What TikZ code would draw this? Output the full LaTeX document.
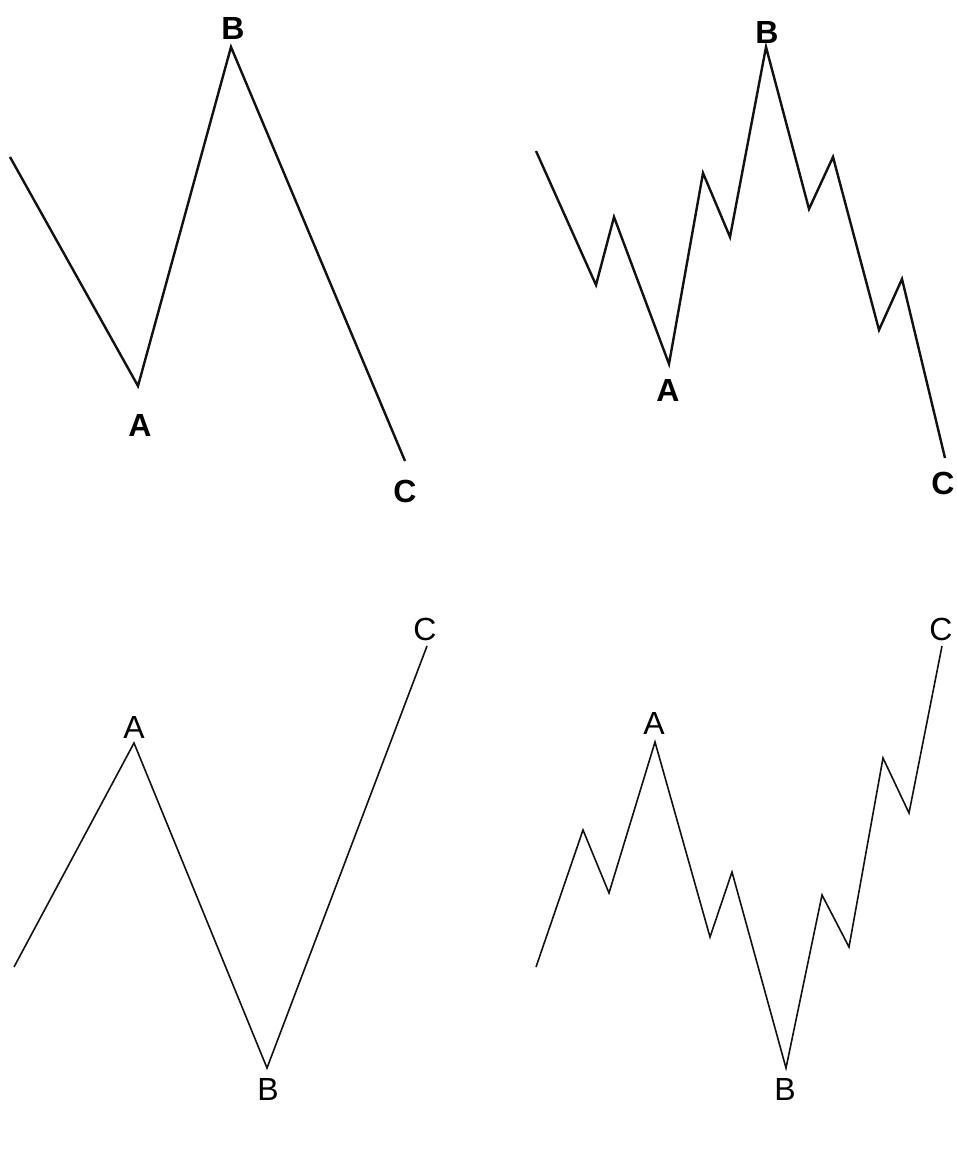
\documentclass[tikz,border=0pt]{standalone}
\usepackage{fontspec}
\setmainfont{Liberation Sans}
\usepackage{tikz}
\definecolor{waveink}{HTML}{111111}
\tikzset{
  bigwave/.style={draw=waveink,line width=2.4pt,line join=miter},
  smallwave/.style={draw=waveink,line width=1.6pt,line join=miter},
  boldlabel/.style={font=\fontsize{32}{32}\selectfont\bfseries,inner sep=0pt},
  thinlabel/.style={font=\fontsize{32}{32}\selectfont,inner sep=0pt}
}

\begin{document}
\begin{tikzpicture}[x=1pt,y=-1pt]
  \useasboundingbox (0,0) rectangle (957,1158);

  % top left: simple zigzag down
  \coordinate (tlS) at (10,157);
  \coordinate (tlA) at (138,386);
  \coordinate (tlB) at (231,47);
  \coordinate (tlC) at (405,461);
  \draw[bigwave] (tlS) -- (tlA) -- (tlB) -- (tlC);
  \node[boldlabel] (tlBl) at (233,28) {B};
  \node[boldlabel] (tlAl) at (140,425) {A};
  \node[boldlabel] (tlCl) at (405,491) {C};

  % top right: same move with subwaves
  \coordinate (trS) at (536,151);
  \coordinate (tr1) at (596,285);
  \coordinate (tr2) at (614,217);
  \coordinate (trA) at (669,364);
  \coordinate (tr3) at (703,173);
  \coordinate (tr4) at (730,237);
  \coordinate (trB) at (766,47);
  \coordinate (tr5) at (809,209);
  \coordinate (tr6) at (833,157);
  \coordinate (tr7) at (879,330);
  \coordinate (tr8) at (902,279);
  \coordinate (trC) at (945,458);
  \draw[bigwave] (trS) -- (tr1) -- (tr2) -- (trA) -- (tr3) -- (tr4) -- (trB)
    -- (tr5) -- (tr6) -- (tr7) -- (tr8) -- (trC);
  \node[boldlabel] (trBl) at (767,32) {B};
  \node[boldlabel] (trAl) at (668,390) {A};
  \node[boldlabel] (trCl) at (943,483) {C};

  % bottom left: simple zigzag up
  \coordinate (blS) at (14,967);
  \coordinate (blA) at (134,743);
  \coordinate (blB) at (267,1068);
  \coordinate (blC) at (427,646);
  \draw[smallwave] (blS) -- (blA) -- (blB) -- (blC);
  \node[thinlabel] (blAl) at (134,727) {A};
  \node[thinlabel] (blBl) at (268,1089) {B};
  \node[thinlabel] (blCl) at (425,629) {C};

  % bottom right: same move with subwaves
  \coordinate (brS) at (536,967);
  \coordinate (br1) at (583,830);
  \coordinate (br2) at (609,893);
  \coordinate (brA) at (655,742);
  \coordinate (br3) at (710,937);
  \coordinate (br4) at (732,872);
  \coordinate (brB) at (786,1068);
  \coordinate (br5) at (822,895);
  \coordinate (br6) at (849,947);
  \coordinate (br7) at (883,758);
  \coordinate (br8) at (909,813);
  \coordinate (brC) at (942,646);
  \draw[smallwave] (brS) -- (br1) -- (br2) -- (brA) -- (br3) -- (br4) -- (brB)
    -- (br5) -- (br6) -- (br7) -- (br8) -- (brC);
  \node[thinlabel] (brAl) at (654,723) {A};
  \node[thinlabel] (brBl) at (785,1089) {B};
  \node[thinlabel] (brCl) at (941,629) {C};
\end{tikzpicture}
\end{document}
